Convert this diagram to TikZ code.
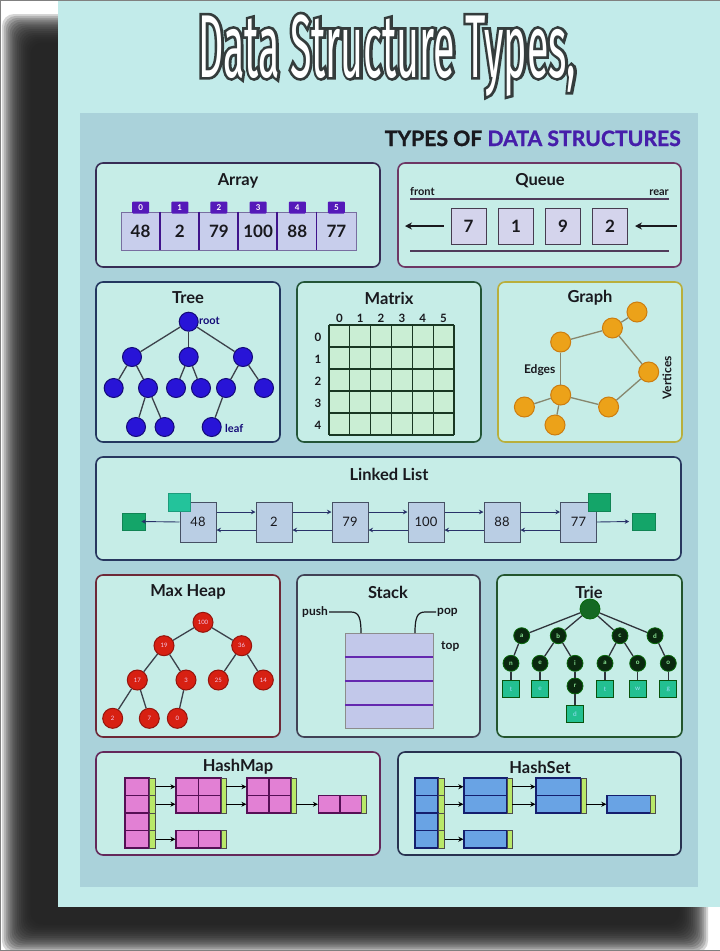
\documentclass[tikz,border=0pt]{standalone}
\usepackage{fontspec}
\usepackage{graphicx}
\setmainfont{Lato}
\newfontfamily\titlefont[FakeStretch=0.44]{Fira Sans}
\newfontfamily\titlefontO[FakeStretch=0.44,FakeBold=6]{Fira Sans}
\usetikzlibrary{calc,arrows.meta}
\definecolor{pfill}{RGB}{198,237,231}
\definecolor{outerC}{RGB}{194,235,234}
\definecolor{innerC}{RGB}{170,210,218}
\definecolor{txt}{RGB}{25,25,30}
\definecolor{dsp}{RGB}{70,30,170}
\definecolor{bArr}{RGB}{55,45,85}
\definecolor{bQue}{RGB}{110,55,100}
\definecolor{bTree}{RGB}{35,55,95}
\definecolor{bMat}{RGB}{35,85,55}
\definecolor{bGra}{RGB}{185,175,60}
\definecolor{bLL}{RGB}{40,55,95}
\definecolor{bHeap}{RGB}{110,40,55}
\definecolor{bStk}{RGB}{65,65,85}
\definecolor{bTrie}{RGB}{35,85,45}
\definecolor{bHM}{RGB}{100,40,90}
\definecolor{bHS}{RGB}{40,50,80}
\definecolor{aFill}{RGB}{200,206,236}
\definecolor{aOut}{RGB}{120,110,160}
\definecolor{aTab}{RGB}{85,25,185}
\definecolor{qFill}{RGB}{212,212,236}
\definecolor{qBoxD}{RGB}{70,60,80}
\definecolor{qLine}{RGB}{80,60,90}
\definecolor{trF}{RGB}{40,20,215}
\definecolor{trD}{RGB}{20,10,120}
\definecolor{edgeG}{RGB}{60,65,75}
\definecolor{mFill}{RGB}{202,238,212}
\definecolor{mLine}{RGB}{25,55,35}
\definecolor{gF}{RGB}{236,162,25}
\definecolor{gD}{RGB}{205,125,15}
\definecolor{gE}{RGB}{135,135,110}
\definecolor{lFill}{RGB}{186,206,228}
\definecolor{lD}{RGB}{70,80,100}
\definecolor{lArr}{RGB}{40,50,105}
\definecolor{teal1}{RGB}{35,195,155}
\definecolor{teal2}{RGB}{20,165,105}
\definecolor{hF}{RGB}{215,32,18}
\definecolor{hD}{RGB}{150,20,12}
\definecolor{sFill}{RGB}{194,200,234}
\definecolor{sLine}{RGB}{100,40,175}
\definecolor{trieR}{RGB}{20,105,35}
\definecolor{trieN}{RGB}{10,40,15}
\definecolor{trieT}{RGB}{140,230,150}
\definecolor{trieS}{RGB}{35,192,145}
\definecolor{pink}{RGB}{226,128,212}
\definecolor{pinkD}{RGB}{85,15,85}
\definecolor{lime}{RGB}{185,232,105}
\definecolor{blueC}{RGB}{105,163,228}
\definecolor{blueD}{RGB}{20,30,110}
\definecolor{outl}{RGB}{52,60,60}
\newcommand\dsttl[1]{\resizebox{378pt}{!}{#1\fontsize{87}{90}\selectfont Data Structure Types,}}
\begin{document}
\begin{tikzpicture}[x=1pt,y=-1pt,
 panel/.style={draw=#1, line width=1.6pt, fill=pfill, rounded corners=7pt},
 ptitle/.style={font=\fontsize{16.5}{19}\selectfont\bfseries, text=txt, inner sep=0pt},
 acell/.style={draw=aOut, line width=0.8pt, fill=aFill, minimum width=39.17pt, minimum height=38pt, inner sep=0pt, font=\fontsize{17}{20}\selectfont\bfseries, text=txt},
 atab/.style={fill=aTab, minimum width=17pt, minimum height=12pt, inner sep=0pt, font=\fontsize{8}{9}\selectfont\bfseries, text=white, rounded corners=1pt},
 adiv/.style={draw=aTab!75!black, line width=1.6pt},
 qline/.style={draw=qLine, line width=1.5pt},
 smlab/.style={font=\fontsize{11.5}{13}\selectfont\bfseries, text=txt, inner sep=0pt},
 qbox/.style={draw=qBoxD, line width=1pt, fill=qFill, minimum width=35pt, minimum height=36pt, inner sep=0pt, font=\fontsize{17}{20}\selectfont\bfseries, text=txt},
 qarr/.style={draw=txt, line width=2pt, -{Stealth[length=7pt,width=7pt]}},
 tnode/.style={circle, fill=trF, draw=trD, line width=1pt, minimum size=19pt, inner sep=0pt},
 tedge/.style={draw=edgeG, line width=1.3pt},
 mlab/.style={font=\fontsize{11.5}{13}\selectfont\bfseries, text=txt, inner sep=0pt},
 mgrid/.style={draw=mLine, line width=1.3pt},
 gnode/.style={circle, fill=gF, draw=gD, line width=1pt, minimum size=20pt, inner sep=0pt},
 gedge/.style={draw=gE, line width=1.3pt},
 lbox/.style={draw=lD, line width=1pt, fill=lFill, minimum width=36pt, minimum height=40pt, inner sep=0pt, font=\fontsize{13}{15}\selectfont, text=txt},
 larr/.style={draw=lArr, line width=0.9pt, -{Stealth[length=4.5pt,width=4.5pt]}},
 lsq/.style={fill=#1, draw=#1!80!black, line width=0.6pt, minimum width=22pt, minimum height=18pt, inner sep=0pt},
 hnode/.style={circle, fill=hF, draw=hD, line width=1pt, minimum size=20pt, inner sep=0pt, font=\fontsize{6}{7}\selectfont, text=pink!40!white},
 sline/.style={draw=sLine, line width=2pt},
 sconn/.style={draw=txt, line width=1.2pt},
 trnode/.style={circle, fill=trieN, draw=trieN!70!green, line width=0.8pt, minimum size=16pt, inner sep=0pt, font=\fontsize{6.5}{7}\selectfont\bfseries, text=trieT},
 trsq/.style={fill=trieS, draw=trieN!80!green, line width=1pt, minimum size=17pt, inner sep=0pt, font=\fontsize{6.5}{7}\selectfont, text=cyan!40!white},
 tredge/.style={draw=edgeG!80!black, line width=1.3pt},
 pcell/.style={fill=pink, draw=pinkD, line width=1.2pt, inner sep=0pt},
 bcell/.style={fill=blueC, draw=blueD, line width=1.4pt, inner sep=0pt},
 strip/.style={fill=lime, draw=black!70, line width=0.6pt, minimum width=6pt, inner sep=0pt},
 harr/.style={draw=black, line width=1pt, -{Stealth[length=5pt,width=5pt]}}
]
\useasboundingbox (0,0) rectangle (720,951);
\fill[white] (0,0) rectangle (720,951);
% shadow
\foreach \i in {0,...,15} {
 \fill[black!88, opacity=0.18, rounded corners=12pt] ({2+1.9*\i},{14+1.9*\i}) rectangle ({708-1.9*\i},{953-1.9*\i});
}
\draw[gray, line width=1pt] (720,0.5) -- (0.5,0.5) -- (0.5,950.5) -- (720,950.5);
% outer and inner panels
\fill[outerC] (58,1) rectangle (720,907);
\fill[innerC] (80,113) rectangle (698,887);
% title
\node[anchor=base west, inner sep=0pt, text=outl] (titleO) at (198,77) {\dsttl{\titlefontO}};
\node[anchor=base west, inner sep=0pt, text=white] (title) at (198,77) {\dsttl{\titlefont}};
% heading
\node[anchor=base east, inner sep=0pt, text=txt] (head) at (681,146) {\resizebox{296pt}{!}{\bfseries\addfontfeatures{FakeBold=1.2}TYPES OF \textcolor{dsp}{DATA STRUCTURES}}};
% panels
\path[panel=bArr] (96,163) rectangle (380,267);
\path[panel=bQue] (398,163) rectangle (681,267);
\path[panel=bTree] (96,282) rectangle (280,442);
\path[panel=bMat] (297,282) rectangle (481,442);
\path[panel=bGra] (498,282) rectangle (682,442);
\path[panel=bLL] (96,457) rectangle (681,560);
\path[panel=bHeap] (96,575) rectangle (280,737);
\path[panel=bStk] (297,575) rectangle (480,737);
\path[panel=bTrie] (497,575) rectangle (682,737);
\path[panel=bHM] (96,752) rectangle (380,855);
\path[panel=bHS] (398,752) rectangle (681,855);
% titles
\node[ptitle] (tArr) at (238,181) {Array};
\node[ptitle] (tQue) at (540,181) {Queue};
\node[ptitle] (tTree) at (188,298) {Tree};
\node[ptitle] (tMat) at (389,298) {Matrix};
\node[ptitle] (tGra) at (590,298) {Graph};
\node[ptitle] (tLL) at (389,474) {Linked List};
\node[ptitle] (tHeap) at (188,592) {Max Heap};
\node[ptitle] (tStk) at (388,592) {Stack};
\node[ptitle] (tTrie) at (589,592) {Trie};
\node[ptitle] (tHM) at (238,767) {HashMap};
\node[ptitle] (tHS) at (540,767) {HashSet};
% ---------- Array
\foreach \i/\v in {0/48,1/2,2/79,3/100,4/88,5/77} {
 \node[acell] (ac\i) at ({140.6+39.17*\i},231) {\raisebox{-4pt}{\v}};
}
\foreach \i in {1,...,5} { \draw[adiv] (ac\i.north west) -- (ac\i.south west); }
\foreach \i in {0,...,5} {
 \node[atab] (at\i) at ({140.6+39.17*\i},207.5) {\i};
}
% ---------- Queue
\draw[qline] (410,199) -- (669,199);
\draw[qline] (410,251) -- (669,251);
\node[smlab, anchor=base west, font=\fontsize{11}{13}\selectfont\bfseries] (front) at (410,195) {front};
\node[smlab, anchor=base east, font=\fontsize{11}{13}\selectfont\bfseries] (rear) at (669,195) {rear};
\node[qbox] (q1) at (468.5,226) {7};
\node[qbox] (q2) at (516,226) {1};
\node[qbox] (q3) at (563,226) {9};
\node[qbox] (q4) at (610,226) {2};
\coordinate (qL) at (405,226);
\coordinate (qR) at (677,226);
\draw[qarr] ([xshift=-7pt]q1.west) -- (qL);
\draw[qarr] (qR) -- ([xshift=7pt]q4.east);
% ---------- Tree
\node[tnode] (tr) at (188.7,321.7) {};
\node[tnode] (t1) at (132,357) {};
\node[tnode] (t2) at (188.7,357) {};
\node[tnode] (t3) at (243,357) {};
\node[tnode] (t4) at (113.7,388) {};
\node[tnode] (t5) at (148,388) {};
\node[tnode] (t6) at (176,388) {};
\node[tnode] (t7) at (201,388) {};
\node[tnode] (t8) at (226,388) {};
\node[tnode] (t9) at (264,388) {};
\node[tnode] (t10) at (136,427) {};
\node[tnode] (t11) at (164.6,427) {};
\node[tnode] (t12) at (211.7,427) {};
\foreach \a/\b in {tr/t1,tr/t2,tr/t3,t1/t4,t1/t5,t2/t6,t2/t7,t3/t8,t3/t9,t5/t10,t5/t11,t8/t12} {
 \draw[tedge] (\a) -- (\b);
}
\node[smlab, anchor=west, text=trD, font=\fontsize{11}{13}\selectfont\bfseries] (root) at (199,321) {root};
\node[smlab, anchor=west, text=trD, font=\fontsize{11}{13}\selectfont\bfseries] (leaf) at (225,428) {leaf};
% ---------- Matrix
\fill[mFill] (329,325) rectangle (454,435);
\foreach \i in {0,...,6} { \draw[mgrid] ({329+20.833*\i},325) -- ({329+20.833*\i},435); }
\foreach \j in {0,...,5} { \draw[mgrid] (329,{325+22*\j}) -- (454,{325+22*\j}); }
\foreach \i in {0,...,5} { \node[mlab] (mc\i) at ({339.4+20.833*\i},318) {\i}; }
\foreach \j in {0,...,4} { \node[mlab] (mr\j) at (318,{337+22*\j}) {\j}; }
% ---------- Graph
\node[gnode] (gA) at (637,312) {};
\node[gnode] (gB) at (612.4,328) {};
\node[gnode] (gC) at (560.7,342) {};
\node[gnode] (gD) at (648.7,372) {};
\node[gnode] (gE) at (560.7,395) {};
\node[gnode] (gF) at (524.4,407) {};
\node[gnode] (gG) at (608.6,407) {};
\node[gnode] (gH) at (555,425) {};
\foreach \a/\b in {gA/gB,gB/gC,gB/gD,gD/gG,gG/gE,gE/gF,gE/gH,gC/gE} {
 \draw[gedge] (\a) -- (\b);
}
\node[smlab, font=\fontsize{12}{14}\selectfont\bfseries] (edges) at (539.7,370) {Edges};
\node[smlab, rotate=90, font=\fontsize{12}{14}\selectfont\bfseries] (vert) at (667,378) {Vertices};
% ---------- Linked list
\foreach \i/\x/\v in {1/198/48,2/274/2,3/350/79,4/426/100,5/502/88,6/578.5/77} {
 \node[lbox] (l\i) at (\x,522) {\v};
}
\foreach \a/\b in {1/2,2/3,3/4,4/5,5/6} {
 \draw[larr] ([yshift=10pt]l\a.east) -- ([yshift=10pt]l\b.west);
 \draw[larr] ([yshift=-8pt]l\b.west) -- ([yshift=-8pt]l\a.east);
}
\node[lsq=teal1] (lH) at (179,502) {};
\node[lsq=teal2] (lT) at (599,502) {};
\node[lsq=teal2, minimum width=23pt, minimum height=17pt] (lL) at (134,521.5) {};
\node[lsq=teal2, minimum width=23pt, minimum height=17pt] (lR) at (644,521.5) {};
\draw[larr] (l1.west) -- ([xshift=-4.5pt]lL.east);
\draw[larr] (l6.east) -- ([xshift=-3pt]lR.west);
% ---------- Max heap
\node[hnode] (h1) at (203,622.3) {100};
\node[hnode] (h2) at (164,645.7) {19};
\node[hnode] (h3) at (241.7,645.7) {36};
\node[hnode] (h4) at (137.3,680) {17};
\node[hnode] (h5) at (186,680) {3};
\node[hnode] (h6) at (218.3,680) {25};
\node[hnode] (h7) at (263.3,680) {14};
\node[hnode] (h8) at (112.7,718.3) {2};
\node[hnode] (h9) at (149.3,718.3) {7};
\node[hnode] (h10) at (177.3,718.3) {0};
\foreach \a/\b in {h1/h2,h1/h3,h2/h4,h2/h5,h3/h6,h3/h7,h4/h8,h4/h9,h5/h10} {
 \draw[tedge] (\a) -- (\b);
}
% ---------- Stack
\node[fill=sFill, draw=black!45, line width=1pt, minimum width=88pt, minimum height=95pt, inner sep=0pt] (stk) at (389,680.5) {};
\draw[sline] (345,657) -- (433,657);
\draw[sline] (345,681) -- (433,681);
\draw[sline] (345,705) -- (433,705);
\node[smlab, anchor=west, font=\fontsize{12}{14}\selectfont\bfseries] (push) at (302,612) {push};
\node[smlab, anchor=west, font=\fontsize{12}{14}\selectfont\bfseries] (pop) at (437,612) {pop};
\node[smlab, anchor=west, font=\fontsize{12}{14}\selectfont\bfseries] (top) at (441,646) {top};
\coordinate (pushIn) at (361,633);
\coordinate (popOut) at (415,633);
\draw[sconn] ([xshift=1pt]push.east) -- (351,612) .. controls (359,612) and (361,618) .. (pushIn);
\draw[sconn] (popOut) .. controls (415,618) and (417,612) .. (425,612) -- ([xshift=-1pt]pop.west);
% ---------- Trie
\node[trnode, fill=trieR, minimum size=20pt] (rr) at (590,609) {};
\node[trnode] (ra) at (521.7,635.7) {a};
\node[trnode] (rb) at (558.3,635.7) {b};
\node[trnode] (rc) at (620,635.7) {c};
\node[trnode] (rd) at (655,635.7) {d};
\node[trnode] (rn) at (511,663.3) {n};
\node[trnode] (re) at (540,663.3) {e};
\node[trnode] (ri) at (575,663.3) {i};
\node[trnode] (rs) at (605,663.3) {a};
\node[trnode] (ro1) at (637.7,663.3) {o};
\node[trnode] (ro2) at (668.3,663.3) {o};
\node[trnode] (rr2) at (575,686) {r};
\node[trsq] (sq1) at (511,689) {t};
\node[trsq] (sq2) at (540,689) {e};
\node[trsq] (sq3) at (605,689) {t};
\node[trsq] (sq4) at (637.7,689) {w};
\node[trsq] (sq5) at (668.3,689) {g};
\node[trsq] (sq6) at (575,714.3) {d};
\foreach \a/\b in {rr/ra,rr/rb,rr/rc,rr/rd,ra/rn,rb/re,rb/ri,rc/rs,rc/ro1,rd/ro2,rn/sq1,re/sq2,ri/rr2,rr2/sq6,rs/sq3,ro1/sq4,ro2/sq5} {
 \draw[tredge] (\a) -- (\b);
}
% ---------- HashMap
\foreach \k/\yy in {1/786.75,2/804.25,3/821.75,4/839.25} {
 \node[pcell, minimum width=24pt, minimum height=17.5pt] (hmb\k) at (137,\yy) {};
 \node[strip, minimum height=17.5pt] (hms\k) at (152.5,\yy) {};
}
\node[pcell, minimum width=45pt, minimum height=35pt] (hme1) at (198.5,795.5) {};
\draw[pcell] (hme1.north) -- (hme1.south) (hme1.west) -- (hme1.east);
\node[strip, minimum width=5pt, minimum height=35pt] (hmes1) at (223.5,795.5) {};
\node[pcell, minimum width=44pt, minimum height=35pt] (hme2) at (269,795.5) {};
\draw[pcell] (hme2.north) -- (hme2.south) (hme2.west) -- (hme2.east);
\node[strip, minimum width=5pt, minimum height=35pt] (hmes2) at (293.5,795.5) {};
\node[pcell, minimum width=43pt, minimum height=17.5pt] (hme3) at (340,804.25) {};
\draw[pcell] (hme3.north) -- (hme3.south);
\node[strip, minimum width=5pt, minimum height=17.5pt] (hmes3) at (364.2,804.25) {};
\node[pcell, minimum width=45pt, minimum height=17.5pt] (hme4) at (198.5,839.25) {};
\draw[pcell] (hme4.north) -- (hme4.south);
\node[strip, minimum width=5pt, minimum height=17.5pt] (hmes4) at (223.5,839.25) {};
\draw[harr] (hms1.east) -- (hms1.east -| hme1.west);
\draw[harr] (hms2.east) -- (hms2.east -| hme1.west);
\draw[harr] (hmes1.east |- hms1.east) -- (hms1.east -| hme2.west);
\draw[harr] (hmes1.east |- hms2.east) -- (hms2.east -| hme2.west);
\draw[harr] (hmes2.east |- hms2.east) -- (hme3.west);
\draw[harr] (hms4.east) -- (hme4.west);
% ---------- HashSet
\foreach \k/\yy in {1/786.75,2/804.25,3/821.75,4/839.25} {
 \node[bcell, minimum width=23pt, minimum height=17.5pt] (hsb\k) at (426.5,\yy) {};
 \node[strip, minimum height=17.5pt] (hss\k) at (441.5,\yy) {};
}
\node[bcell, minimum width=43pt, minimum height=35pt] (hse1) at (485.5,795.5) {};
\draw[bcell] (hse1.west) -- (hse1.east);
\node[strip, minimum width=5pt, minimum height=35pt] (hses1) at (509.5,795.5) {};
\node[bcell, minimum width=44.6pt, minimum height=35pt] (hse2) at (558.3,795.5) {};
\draw[bcell] (hse2.west) -- (hse2.east);
\node[strip, minimum width=5pt, minimum height=35pt] (hses2) at (583.3,795.5) {};
\node[bcell, minimum width=43.6pt, minimum height=17.5pt] (hse3) at (628.8,804.25) {};
\node[strip, minimum width=5pt, minimum height=17.5pt] (hses3) at (653.1,804.25) {};
\node[bcell, minimum width=43pt, minimum height=17.5pt] (hse4) at (485.5,839.25) {};
\node[strip, minimum width=5pt, minimum height=17.5pt] (hses4) at (509.5,839.25) {};
\draw[harr] (hss1.east) -- (hss1.east -| hse1.west);
\draw[harr] (hss2.east) -- (hss2.east -| hse1.west);
\draw[harr] (hses1.east |- hss1.east) -- (hss1.east -| hse2.west);
\draw[harr] (hses1.east |- hss2.east) -- (hss2.east -| hse2.west);
\draw[harr] (hses2.east |- hss2.east) -- (hse3.west);
\draw[harr] (hss4.east) -- (hse4.west);
\end{tikzpicture}
\end{document}
